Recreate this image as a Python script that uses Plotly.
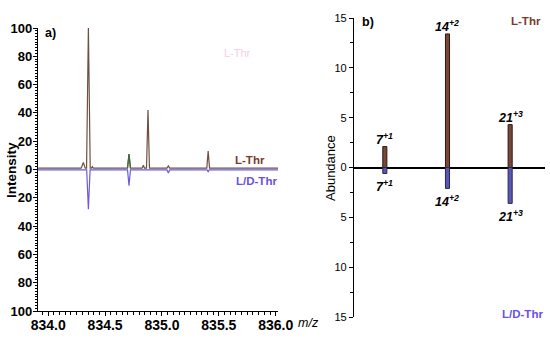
import plotly.graph_objects as go

# ---------------- data ----------------
# panel a) mass spectrum (m/z, relative intensity); L/D-Thr plotted downward
mz_L = [833.91, 834.29, 834.309, 834.325, 834.337, 834.353, 834.369, 834.38, 834.388, 834.396,
        834.697, 834.71, 834.723, 834.826, 834.836, 834.846, 834.864, 834.877, 834.89,
        835.044, 835.056, 835.068, 835.394, 835.406, 835.418, 836.02]
int_L = [1, 1, 5, 1, 1, 100, 1, 1, 2, 1,
         1, 11, 1, 1, 3, 1, 1, 42, 1,
         1, 2.5, 1, 1, 13, 1, 1]

# greenish-looking peak in the L-Thr trace
mz_G = [834.697, 834.71, 834.723]
int_G = [1, 11, 1]

mz_LD = [833.91, 834.338, 834.353, 834.368, 834.697, 834.71, 834.723,
         835.044, 835.056, 835.068, 835.396, 835.406, 835.416, 836.02]
int_LD = [0.3, 0.3, 28, 0.3, 0.3, 11.5, 0.3,
          0.3, 2.5, 0.3, 0.3, 1.5, 0.3, 0.3]

x_ticks_a = [834.0, 834.5, 835.0, 835.5, 836.0]
y_ticks_a = [-100, -80, -60, -40, -20, 0, 20, 40, 60, 80, 100]

# panel b) abundance per charge state
species = ["7<sup>+1</sup>", "14<sup>+2</sup>", "21<sup>+3</sup>"]
species_pos = [1, 2, 3]
abund_L = [2.1, 13.4, 4.3]
abund_LD = [0.6, 2.1, 3.6]
y_ticks_b = [-15, -10, -5, 0, 5, 10, 15]

# ---------------- styling ----------------
W, H = 550, 338
def px(x): return x / W
def py(y): return 1 - y / H

FONT = "Arial, Liberation Sans, sans-serif"
BROWN_LINE = "#6e5040"
BROWN_TXT = "#7a3a2c"
PURPLE_LINE = "#6a5ae0"
PURPLE_TXT = "#6a50e6"

fig = go.Figure()

fig.add_trace(go.Scatter(x=mz_L, y=int_L, mode="lines",
                         line=dict(color=BROWN_LINE, width=1.2),
                         xaxis="x", yaxis="y", showlegend=False))
fig.add_trace(go.Scatter(x=mz_G, y=int_G, mode="lines",
                         line=dict(color="#3f6a40", width=1.2),
                         xaxis="x", yaxis="y", showlegend=False))
fig.add_trace(go.Scatter(x=mz_LD, y=[-v for v in int_LD], mode="lines",
                         line=dict(color=PURPLE_LINE, width=1.2),
                         xaxis="x", yaxis="y", showlegend=False))

fig.add_trace(go.Bar(x=species_pos, y=abund_L, width=0.065,
                     marker=dict(color="#7b4636", line=dict(color="#2a1a14", width=1)),
                     xaxis="x2", yaxis="y2", showlegend=False))
fig.add_trace(go.Bar(x=species_pos, y=[-v for v in abund_LD], width=0.065,
                     marker=dict(color="#5a56b8", line=dict(color="#2a2850", width=1)),
                     xaxis="x2", yaxis="y2", showlegend=False))

ann = []
def txt(x, y, t, size=12, color="black", bold=True, italic=False, **kw):
    s = t
    if bold:
        s = "<b>" + s + "</b>"
    if italic:
        s = "<i>" + s + "</i>"
    d = dict(x=px(x), y=py(y), xref="paper", yref="paper", text=s, showarrow=False,
             xanchor="center", yanchor="middle",
             font=dict(family=FONT, size=size, color=color))
    d.update(kw)
    ann.append(d)

# panel a texts
txt(50, 33, "a)", 12.5)
txt(237, 53, "L-Thr", 11, "#f3cfe6", bold=False)
txt(250, 160, "L-Thr", 11.5, BROWN_TXT)
txt(256, 181, "L/D-Thr", 11.5, PURPLE_TXT)
txt(308, 323, "m/z", 12.5, bold=False, italic=True)
txt(11, 170, "Intensity", 13.5, textangle=-90)

# panel b texts
txt(368, 22, "b)", 12.5)
txt(526, 21, "L-Thr", 11.5, BROWN_TXT)
txt(522, 314, "L/D-Thr", 11.5, PURPLE_TXT)
txt(330, 168, "Abundance", 13, bold=False, textangle=-90)

for i, lab in enumerate(species):
    ann.append(dict(x=species_pos[i], y=abund_L[i], xref="x2", yref="y2",
                    text="<b><i>" + lab + "</i></b>", showarrow=False,
                    yanchor="bottom", yshift=-2,
                    font=dict(family=FONT, size=12.5, color="black")))
    ann.append(dict(x=species_pos[i], y=-abund_LD[i], xref="x2", yref="y2",
                    text="<b><i>" + lab + "</i></b>", showarrow=False,
                    yanchor="top", yshift=-3,
                    font=dict(family=FONT, size=12.5, color="black")))

fig.update_layout(
    width=W, height=H,
    margin=dict(l=0, r=0, t=0, b=0, autoexpand=False),
    paper_bgcolor="white", plot_bgcolor="white",
    barmode="overlay",
    font=dict(family=FONT, color="black"),
    annotations=ann,
    xaxis=dict(domain=[px(38), px(278)], range=[833.91, 836.02], automargin=False,
               tickvals=x_ticks_a, ticktext=["<b>%.1f</b>" % v for v in x_ticks_a],
               tickfont=dict(size=14, family=FONT), ticks="outside", ticklen=4,
               ticklabelstandoff=-3,
               tickcolor="black", showline=True, linecolor="black", linewidth=1.2,
               showgrid=False, zeroline=False, anchor="y",
               minor=dict(dtick=0.05, ticklen=2.5, tickcolor="black", ticks="outside")),
    yaxis=dict(domain=[py(311), py(28)], range=[-100, 100], automargin=False,
               tickvals=y_ticks_a, ticktext=["<b>%d</b>" % abs(v) for v in y_ticks_a],
               tickfont=dict(size=13, family=FONT), ticks="outside", ticklen=4,
               ticklabelstandoff=-2,
               tickcolor="black", showline=True, linecolor="black", linewidth=1.2,
               showgrid=False, zeroline=False, anchor="x",
               minor=dict(dtick=2, ticklen=2, tickcolor="black", ticks="outside")),
    xaxis2=dict(domain=[px(354), px(545)], range=[0.508, 3.556], automargin=False,
                visible=False, anchor="y2"),
    yaxis2=dict(domain=[py(317), py(18)], range=[-15, 15], automargin=False,
                tickvals=y_ticks_b, ticktext=[str(abs(v)) for v in y_ticks_b],
                tickfont=dict(size=11, family=FONT), ticks="outside", ticklen=4,
                tickcolor="black", showline=True, linecolor="black", linewidth=1.2,
                showgrid=False, zeroline=True, zerolinecolor="black", zerolinewidth=1.5,
                anchor="x2",
                minor=dict(dtick=2.5, ticklen=2.5, tickcolor="black", ticks="outside")),
)

fig.write_html("out.html", config={"displayModeBar": False},
               post_script="document.body.style.margin='0';")
